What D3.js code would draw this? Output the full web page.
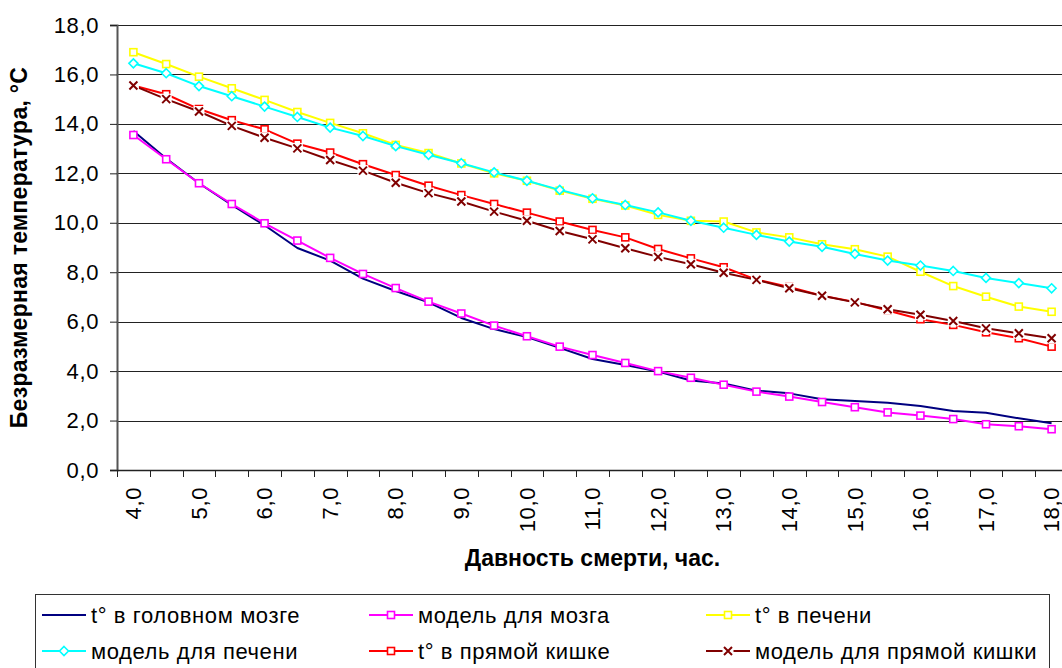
<!DOCTYPE html>
<html><head><meta charset="utf-8">
<script src="https://cdn.jsdelivr.net/npm/d3@7"></script>
<style>
body{margin:0;background:#fff}
svg{display:block}
text{font-family:"Liberation Sans",Arial,sans-serif;fill:#000}
</style>
</head><body>
<svg id="chart" width="1062" height="668"></svg>
<script>
// ---- data ----
const hours = ["4,0","4,5","5,0","5,5","6,0","6,5","7,0","7,5","8,0","8,5","9,0","9,5","10,0","10,5","11,0","11,5","12,0","12,5","13,0","13,5","14,0","14,5","15,0","15,5","16,0","16,5","17,0","17,5","18,0"];
const xTickLabels = ["4,0","5,0","6,0","7,0","8,0","9,0","10,0","11,0","12,0","13,0","14,0","15,0","16,0","17,0","18,0"];
const yTickValues = [0,2,4,6,8,10,12,14,16,18];

const brainT      = [13.71,12.6,11.6,10.72,9.9,8.98,8.47,7.74,7.24,6.78,6.15,5.7,5.38,4.94,4.49,4.25,3.98,3.62,3.5,3.21,3.1,2.86,2.79,2.72,2.59,2.39,2.32,2.09,1.89];
const brainModel  = [13.55,12.57,11.6,10.76,9.98,9.28,8.58,7.93,7.36,6.81,6.33,5.84,5.41,4.99,4.65,4.33,4.0,3.73,3.45,3.17,2.97,2.75,2.54,2.33,2.2,2.06,1.85,1.77,1.65];
const liverT      = [16.9,16.42,15.91,15.44,14.97,14.48,14.04,13.62,13.15,12.82,12.4,12.0,11.7,11.3,10.97,10.7,10.32,10.08,10.05,9.61,9.41,9.13,8.93,8.63,8.02,7.44,7.01,6.61,6.4];
const liverModel  = [16.45,16.05,15.53,15.12,14.7,14.28,13.85,13.51,13.1,12.75,12.41,12.04,11.7,11.33,10.99,10.72,10.42,10.08,9.8,9.51,9.24,9.03,8.74,8.47,8.27,8.05,7.77,7.56,7.35];
const rectumT     = [15.55,15.2,14.6,14.15,13.78,13.2,12.84,12.37,11.93,11.5,11.12,10.76,10.41,10.05,9.71,9.41,8.94,8.56,8.2,7.7,7.4,7.05,6.8,6.45,6.1,5.87,5.57,5.33,4.99];
const rectumModel = [15.55,15.0,14.5,13.92,13.44,13.01,12.54,12.11,11.62,11.2,10.86,10.45,10.08,9.67,9.33,8.97,8.62,8.32,7.98,7.69,7.35,7.05,6.78,6.5,6.28,6.03,5.73,5.53,5.33];

const seriesNames = ["t° в головном мозге","модель для мозга","t° в печени","модель для печени","t° в прямой кишке","модель для прямой кишки"];
const seriesColors = ["#000080","#FF00FF","#FFFF00","#00FFFF","#FF0000","#800000"];
const seriesMarkers = ["none","square","square","diamond","square","x"];
const seriesValues = [brainT,brainModel,liverT,liverModel,rectumT,rectumModel];

const yTitle = "Безразмерная температура, °С";
const xTitle = "Давность смерти, час.";

// ---- layout ----
const svg = d3.select("#chart");
const L = 117, R = 1068, T = 25, B = 470;
const FS = 22, LS = "0.6px";

const x = d3.scaleBand().domain(hours).range([L, R]).paddingInner(0).paddingOuter(0);
const bw = x.bandwidth();
const cx = h => x(h) + bw / 2;
const y = d3.scaleLinear().domain([0, 18]).range([B, T]);

// gridlines
svg.append("g").selectAll("line").data(yTickValues.filter(v => v > 0)).join("line")
  .attr("x1", L).attr("x2", R).attr("y1", d => Math.round(y(d)) + 0.5).attr("y2", d => Math.round(y(d)) + 0.5)
  .attr("stroke", "#222").attr("stroke-width", 1);

// y axis
const yAxis = d3.axisLeft(y).tickValues(yTickValues)
  .tickFormat(d => d.toFixed(1).replace(".", ","))
  .tickSize(7).tickPadding(11);
const gy = svg.append("g").attr("transform", `translate(${L},0)`).call(yAxis);
gy.select(".domain").attr("stroke", "#555").attr("stroke-width", 2);
gy.selectAll(".tick line").attr("stroke", "#222");
gy.selectAll(".tick text").attr("font-size", FS).attr("letter-spacing", LS)
  .attr("font-family", '"Liberation Sans",Arial,sans-serif').attr("fill", "#000");

// x axis line and ticks (between categories)
const tickPos = hours.map(h => x(h)).concat([R]);
svg.append("line").attr("x1", L).attr("x2", R).attr("y1", B + 0.5).attr("y2", B + 0.5).attr("stroke", "#222").attr("stroke-width", 1.5);
svg.append("g").selectAll("line").data(tickPos).join("line")
  .attr("x1", d => Math.round(d) + 0.5).attr("x2", d => Math.round(d) + 0.5)
  .attr("y1", B).attr("y2", B + 7).attr("stroke", "#222");
svg.append("g").selectAll("text").data(xTickLabels).join("text")
  .attr("transform", d => `translate(${cx(d)},${B + 17}) rotate(-90)`)
  .attr("text-anchor", "end").attr("dy", "0.35em").attr("font-size", FS).attr("letter-spacing", LS)
  .text(d => d);

// axis titles
svg.append("text").attr("transform", `translate(${27},${(T + B) / 2}) rotate(-90)`)
  .attr("text-anchor", "middle").attr("font-size", 23).attr("font-weight", "bold").attr("letter-spacing", "0.3px").text(yTitle);
svg.append("text").attr("x", (L + R) / 2).attr("y", 566)
  .attr("text-anchor", "middle").attr("font-size", 23).attr("font-weight", "bold").text(xTitle);

// markers
function drawMarker(g, type, color, px, py) {
  if (type === "square") {
    g.append("rect").attr("x", px - 3.5).attr("y", py - 3.5).attr("width", 7).attr("height", 7)
      .attr("fill", "#fff").attr("stroke", color).attr("stroke-width", 1.6);
  } else if (type === "diamond") {
    g.append("path").attr("d", `M${px},${py - 4.5}L${px + 4.5},${py}L${px},${py + 4.5}L${px - 4.5},${py}Z`)
      .attr("fill", "#fff").attr("stroke", color).attr("stroke-width", 1.6);
  } else if (type === "x") {
    g.append("rect").attr("x", px - 5.5).attr("y", py - 5.5).attr("width", 11).attr("height", 11).attr("fill", "#fff");
    g.append("path").attr("d", `M${px - 4},${py - 4}L${px + 4},${py + 4}M${px - 4},${py + 4}L${px + 4},${py - 4}`)
      .attr("stroke", color).attr("stroke-width", 2).attr("fill", "none");
  }
}

// series
const line = d3.line().x((d, i) => cx(hours[i])).y(d => y(d));
seriesValues.forEach((vals, si) => {
  const g = svg.append("g");
  g.append("path").datum(vals).attr("d", line).attr("fill", "none")
    .attr("stroke", seriesColors[si]).attr("stroke-width", 2).attr("stroke-linejoin", "round");
  if (seriesMarkers[si] !== "none") {
    vals.forEach((v, i) => drawMarker(g, seriesMarkers[si], seriesColors[si], cx(hours[i]), y(v)));
  }
});

// legend
const lg = svg.append("g");
lg.append("rect").attr("x", 35.5).attr("y", 594.5).attr("width", 1014).attr("height", 90)
  .attr("fill", "#fff").attr("stroke", "#333").attr("stroke-width", 1);
const colX = [42, 369, 706];
const rowY = [615, 651];
seriesNames.forEach((name, i) => {
  const col = i % 3, row = Math.floor(i / 3);
  const x0 = colX[col], yy = rowY[row];
  const g = lg.append("g");
  g.append("line").attr("x1", x0).attr("x2", x0 + 44).attr("y1", yy).attr("y2", yy)
    .attr("stroke", seriesColors[i]).attr("stroke-width", 2);
  if (seriesMarkers[i] !== "none") drawMarker(g, seriesMarkers[i], seriesColors[i], x0 + 22, yy);
  g.append("text").attr("x", x0 + 49).attr("y", yy).attr("dy", "0.35em").attr("font-size", FS)
    .attr("letter-spacing", LS).text(name);
});
</script>
</body></html>
